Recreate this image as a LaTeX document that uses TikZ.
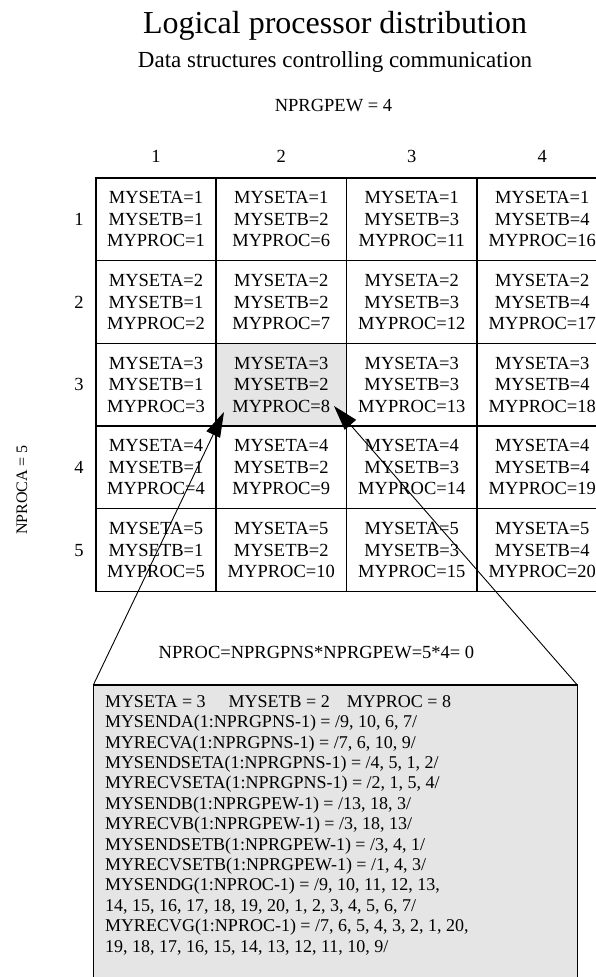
\documentclass[tikz,border=0pt]{standalone}
\usepackage{fontspec}
\setmainfont{Liberation Serif}
\usetikzlibrary{arrows.meta}
\begin{document}
\begin{tikzpicture}[x=1pt,y=-1pt,
  every node/.style={inner sep=0pt, outer sep=0pt},
  txt/.style={font=\fontsize{18.5}{21.5}\selectfont},
  cell/.style={txt, draw, line width=1.3pt, minimum height=82.7pt, align=center},
  infobox/.style={draw, line width=1.5pt, fill=black!10, anchor=north west},
  ptr/.style={line width=0.9pt, -{Triangle[length=25pt,width=15pt]}}]
\useasboundingbox (0,0) rectangle (596,977);
\clip (0,0) rectangle (596,977);
\node[font=\fontsize{32}{38}\selectfont, anchor=base] (title) at (335,33) {Logical processor distribution};
\node[font=\fontsize{23}{28}\selectfont, anchor=base] (subtitle) at (335,67) {Data structures controlling communication};
\node[txt, anchor=base] (nprgpew) at (333.5,111) {NPRGPEW = 4};
\foreach \c/\x/\w in {1/156/120, 2/281.25/130.5, 3/411.75/130.5, 4/542.25/130.5}{
  \node[txt, anchor=base] (col\c) at (\x,162) {\c};
  \foreach \r in {1,...,5}{
    \pgfmathtruncatemacro\p{(\c-1)*5+\r}
    \ifnum\p=8 \def\cfill{black!10}\else\def\cfill{none}\fi
    \node[cell, fill=\cfill, minimum width=\w pt] (c\r\c) at (\x,{178+(\r-0.5)*82.7}) {MYSETA=\r\\MYSETB=\c\\MYPROC=\p};
  }
}
\foreach \r in {1,...,5}{
  \node[txt] (row\r) at (79,{178+(\r-0.5)*82.7}) {\r};
}
\node[font=\fontsize{16}{18}\selectfont, rotate=90] (nproca) at (22,490) {NPROCA = 5};
\node[txt, anchor=base] (nproc) at (316.5,658) {NPROC=NPRGPNS*NPRGPEW=5*4= 0};
\node[infobox, minimum width=484pt, minimum height=320pt] (box) at (93.3,685) {};
\node[font=\fontsize{18}{20.4}\selectfont, anchor=north west, align=left] (boxtext) at (105,695.3) {%
MYSETA = 3\hspace{23pt}MYSETB = 2\hspace{17pt}MYPROC = 8\\
MYSENDA(1:NPRGPNS-1) = /9, 10, 6, 7/\\
MYRECVA(1:NPRGPNS-1) = /7, 6, 10, 9/\\
MYSENDSETA(1:NPRGPNS-1) = /4, 5, 1, 2/\\
MYRECVSETA(1:NPRGPNS-1) = /2, 1, 5, 4/\\
MYSENDB(1:NPRGPEW-1) = /13, 18, 3/\\
MYRECVB(1:NPRGPEW-1) = /3, 18, 13/\\
MYSENDSETB(1:NPRGPEW-1) = /3, 4, 1/\\
MYRECVSETB(1:NPRGPEW-1) = /1, 4, 3/\\
MYSENDG(1:NPROC-1) = /9, 10, 11, 12, 13,\\
14, 15, 16, 17, 18, 19, 20, 1, 2, 3, 4, 5, 6, 7/\\
MYRECVG(1:NPROC-1) = /7, 6, 5, 4, 3, 2, 1, 20,\\
19, 18, 17, 16, 15, 14, 13, 12, 11, 10, 9/};
\coordinate (tipL) at (224,412);
\coordinate (tipR) at (334,406);
\draw[ptr] (box.north west) -- (tipL);
\draw[ptr] (box.north east) -- (tipR);
\end{tikzpicture}
\end{document}
